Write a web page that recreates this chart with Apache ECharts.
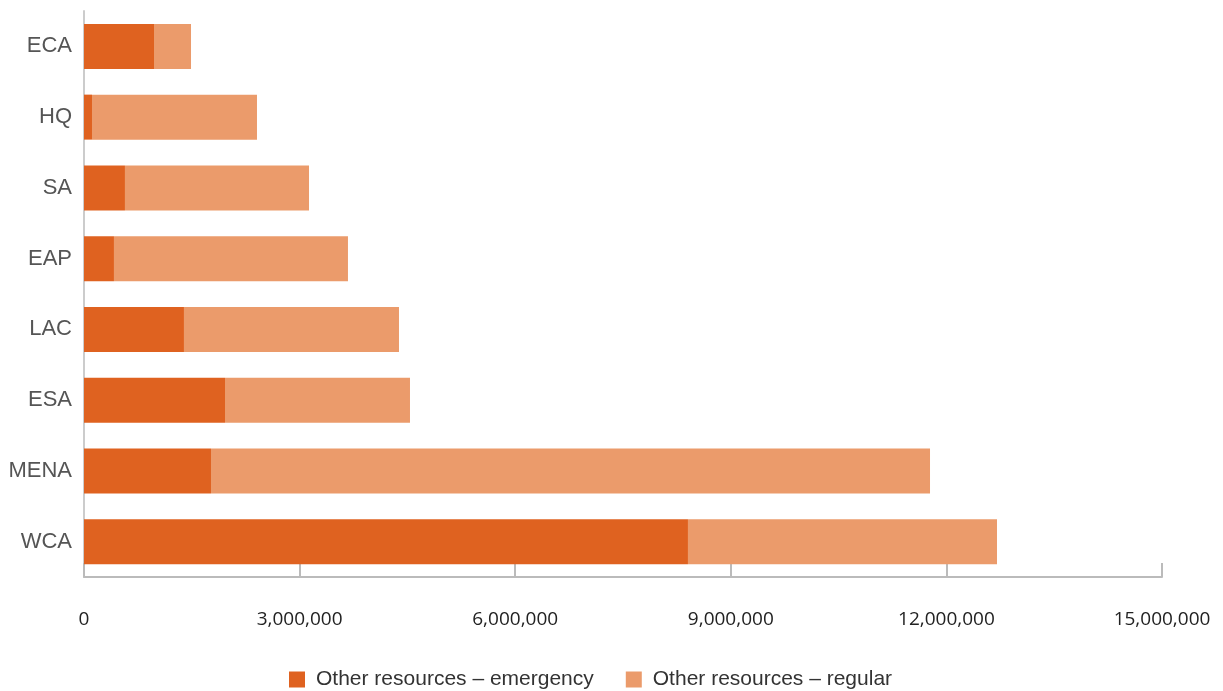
<!DOCTYPE html>
<html><head><meta charset="utf-8">
<script src="https://cdn.jsdelivr.net/npm/echarts@6/dist/echarts.min.js"></script>
<style>html,body{margin:0;padding:0;background:#fff}#c{width:1223px;height:691px}</style>
</head><body><div id="c"></div>
<script>
const categories = ["ECA","HQ","SA","EAP","LAC","ESA","MENA","WCA"];
const emergency = [974000, 111000, 570000, 417000, 1391000, 1962000, 1767000, 8404000];
const regular = [515000, 2296000, 2561000, 3256000, 2992000, 2574000, 10005000, 4300000];
const seriesNames = ["Other resources – emergency","Other resources – regular"];
const xTicks = [0, 3000000, 6000000, 9000000, 12000000, 15000000];

const chart = echarts.init(document.getElementById('c'));
chart.setOption({
  animation:false,
  textStyle:{fontFamily:'"Open Sans", sans-serif'},
  grid:{left:84, right:61, top:11, bottom:114},
  legend:{
    top:664, left:284, itemWidth:16, itemHeight:16, itemGap:32,
    icon:'rect',
    textStyle:{fontSize:21, color:'#333', padding:[0,0,0,6], fontFamily:'"Liberation Sans", sans-serif'},
    data:seriesNames
  },
  xAxis:{
    type:'value', min:xTicks[0], max:xTicks[xTicks.length-1], interval:3000000,
    axisLine:{show:true, lineStyle:{color:'#bbb', width:2}},
    axisTick:{show:true, inside:true, length:14, lineStyle:{color:'#bbb', width:2}},
    splitLine:{show:false},
    axisLabel:{margin:33, fontSize:19, color:'#222',
      formatter:v=>v.toLocaleString('en-US')}
  },
  yAxis:{
    type:'category', data:categories, inverse:true,
    axisLine:{show:true, lineStyle:{color:'#ccc', width:2}},
    axisTick:{show:false},
    axisLabel:{fontSize:22, color:'#555', margin:12, fontFamily:'"Liberation Sans", sans-serif'}
  },
  series:[
    {name:seriesNames[0], type:'bar', stack:'a', data:emergency, barWidth:45, itemStyle:{color:'#DF6220'}},
    {name:seriesNames[1], type:'bar', stack:'a', data:regular, barWidth:45, itemStyle:{color:'#EB9B6B'}}
  ]
});
</script></body></html>
